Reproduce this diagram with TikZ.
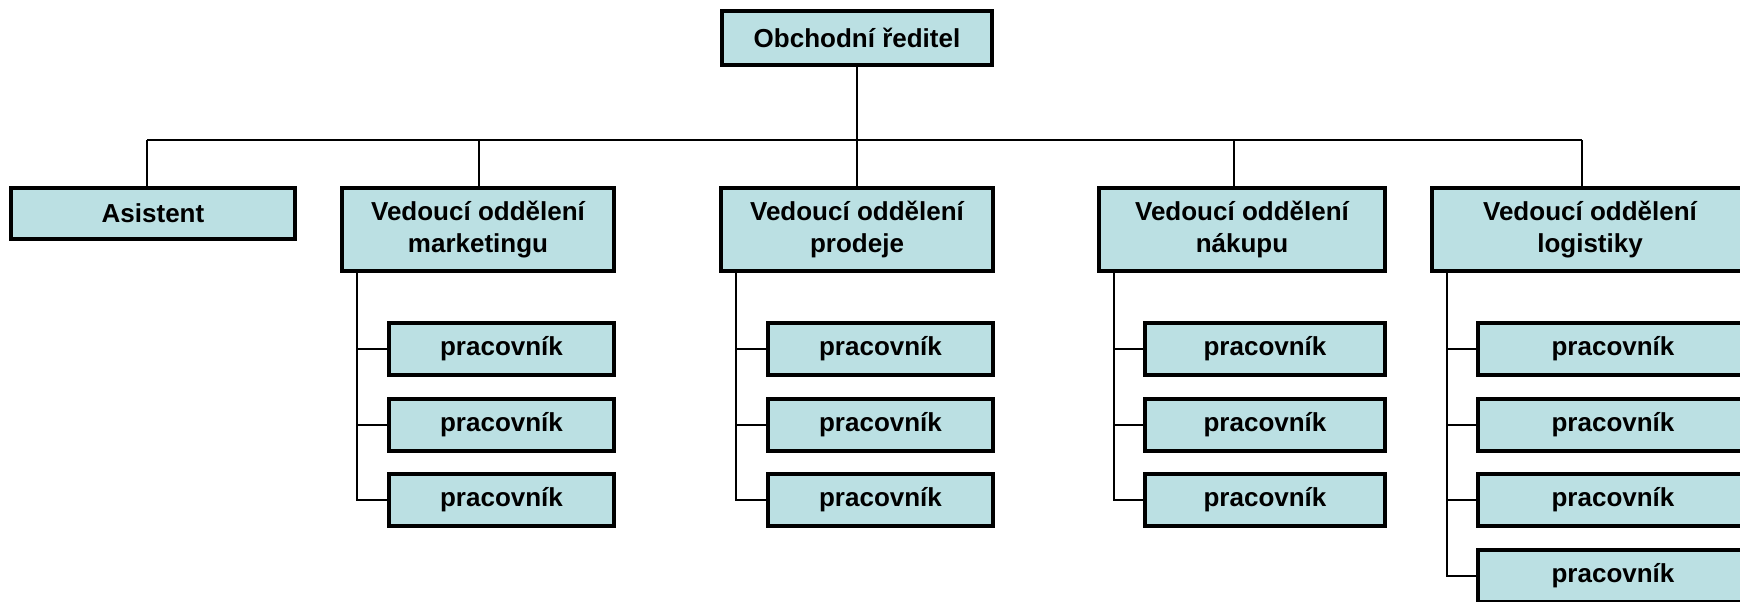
\documentclass[tikz,border=0pt]{standalone}
\usepackage{fontspec}
\setmainfont{Liberation Sans}
\definecolor{boxfill}{RGB}{187,224,227}
\begin{document}
\begin{tikzpicture}[x=0.5pt,y=-0.5pt,
  box/.style={draw=black, fill=boxfill, line width=2pt, inner sep=0pt,
    align=center, font=\fontsize{13}{16}\selectfont\bfseries},
  conn/.style={draw=black, line width=1pt}]
\useasboundingbox (0,0) rectangle (1740,601);
\clip (0,0) rectangle (1740,601);
% top
\node[box, minimum width=135pt, minimum height=27pt] (dir) at (857,38) {Obchodní ředitel};
% level 2
\node[box, minimum width=142pt, minimum height=25.5pt] (asist) at (153,213.5) {Asistent};
\node[box, minimum width=136pt, minimum height=41.5pt] (mkt) at (478,229.5) {Vedoucí oddělení\\marketingu};
\node[box, minimum width=136pt, minimum height=41.5pt] (pro) at (857,229.5) {Vedoucí oddělení\\prodeje};
\node[box, minimum width=143pt, minimum height=41.5pt] (nak) at (1242,229.5) {Vedoucí oddělení\\nákupu};
\node[box, minimum width=158pt, minimum height=41.5pt] (log) at (1590,229.5) {Vedoucí oddělení\\logistiky};
% workers
\foreach \n/\y in {1/349,2/425,3/500}{
  \node[box, minimum width=112.5pt, minimum height=26pt] (mw\n) at (501.5,\y) {pracovník};
  \node[box, minimum width=112.5pt, minimum height=26pt] (pw\n) at (880.5,\y) {pracovník};
  \node[box, minimum width=120pt, minimum height=26pt] (nw\n) at (1265,\y) {pracovník};
}
\foreach \n/\y in {1/349,2/425,3/500,4/576}{
  \node[box, minimum width=135pt, minimum height=26pt] (lw\n) at (1613,\y) {pracovník};
}
% bar coordinates
\coordinate (jA) at (147,140);
\coordinate (jL) at (1582,140);
\coordinate (jM) at (479,140);
\coordinate (jN) at (1234,140);
% connectors
\draw[conn] (dir.south) -- (dir.south |- pro.north);
\draw[conn] (jA) -- (jL);
\draw[conn] (jA) -- (jA |- asist.north);
\draw[conn] (jM) -- (jM |- mkt.north);
\draw[conn] (jN) -- (jN |- nak.north);
\draw[conn] (jL) -- (jL |- log.north);
% vertical lines for workers
\coordinate (mv) at (357,0);
\coordinate (pv) at (736,0);
\coordinate (nv) at (1114,0);
\coordinate (lv) at (1447,0);
\draw[conn] (mkt.south -| mv) |- (mw3.west);
\draw[conn] (pro.south -| pv) |- (pw3.west);
\draw[conn] (nak.south -| nv) |- (nw3.west);
\draw[conn] (log.south -| lv) |- (lw4.west);
\foreach \n in {1,2}{
  \draw[conn] (mw\n.west -| mv) -- (mw\n.west);
  \draw[conn] (pw\n.west -| pv) -- (pw\n.west);
  \draw[conn] (nw\n.west -| nv) -- (nw\n.west);
}
\foreach \n in {1,2,3}{
  \draw[conn] (lw\n.west -| lv) -- (lw\n.west);
}
\end{tikzpicture}
\end{document}
